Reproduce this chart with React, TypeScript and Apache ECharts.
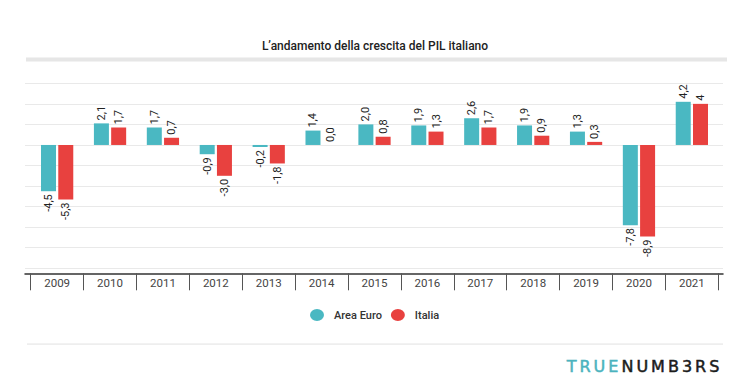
import React, { useEffect, useRef } from "react";
import * as echarts from "echarts";

const years = ["2009", "2010", "2011", "2012", "2013", "2014", "2015", "2016", "2017", "2018", "2019", "2020", "2021"];
const areaEuro = [-4.5, 2.1, 1.7, -0.9, -0.2, 1.4, 2.0, 1.9, 2.6, 1.9, 1.3, -7.8, 4.2];
const italia = [-5.3, 1.7, 0.7, -3.0, -1.8, 0.0, 0.8, 1.3, 1.7, 0.9, 0.3, -8.9, 4];
const areaEuroLabels = ["-4,5", "2,1", "1,7", "-0,9", "-0,2", "1,4", "2,0", "1,9", "2,6", "1,9", "1,3", "-7,8", "4,2"];
const italiaLabels = ["-5,3", "1,7", "0,7", "-3,0", "-1,8", "0,0", "0,8", "1,3", "1,7", "0,9", "0,3", "-8,9", "4"];
const seriesNames = ["Area Euro", "Italia"];
const titleText = "L\u2019andamento della crescita del PIL italiano";
const yMin = -12;
const yMax = 6;
const yStep = 2;

const TEAL = "#4ab8c2";
const RED = "#e8413f";

const logoLetters = ["T", "R", "U", "E", "N", "U", "M", "B", "3", "R", "S"];
const logoX = [566.7, 579.5, 593.6, 608.3, 621.4, 636.4, 651.1, 667.9, 681.9, 695.1, 709.2];

function buildData(values: number[]) {
  return values.map((v) => ({
    value: v,
    label: v < 0 ? { position: "bottom", align: "right" } : { position: "top", align: "left" },
  }));
}

export default function App() {
  const ref = useRef<HTMLDivElement>(null);
  useEffect(() => {
    if (!ref.current) return;
    const chart = echarts.init(ref.current, undefined, { renderer: "svg" });
    const labelBase = {
      show: true,
      rotate: 90,
      distance: 3,
      verticalAlign: "middle",
      fontSize: 11,
      color: "#222",
      fontFamily: "Roboto",
    };
    const option: any = {
      animation: false,
      backgroundColor: "#ffffff",
      textStyle: { fontFamily: "Roboto" },
      title: {
        text: titleText,
        left: "center",
        top: 35,
        textStyle: { fontSize: 12, fontWeight: 500, color: "#222", fontFamily: "Roboto" },
      },
      legend: {
        data: seriesNames,
        left: 305,
        top: 304,
        icon: "path://M0 6a7 6 0 1 0 14 0a7 6 0 1 0 -14 0z",
        itemWidth: 14,
        itemHeight: 12,
        itemGap: 9,
        textStyle: { fontSize: 11, fontWeight: 500, color: "#333", padding: [0, 0, 0, 5] },
      },
      grid: [
        { left: 30.7, right: 31.7, top: 83.3, bottom: 117.7 },
        { left: 25, right: 27, top: 83.3, bottom: 117.7 },
      ],
      xAxis: [
        {
          type: "category",
          gridIndex: 0,
          data: years,
          position: "bottom",
          offset: 5,
          axisLine: { show: false, onZero: false },
          axisTick: { show: true, interval: 0, length: 17, lineStyle: { color: "#555", width: 1 } },
          axisLabel: { interval: 0, margin: 4, fontSize: 11.5, color: "#444", fontFamily: "Roboto" },
          splitLine: { show: false },
        },
        {
          type: "value",
          gridIndex: 1,
          min: 0,
          max: 1,
          position: "bottom",
          offset: 5,
          axisLine: { show: true, onZero: false, lineStyle: { color: "#333", width: 1.5 } },
          axisTick: { show: false },
          axisLabel: { show: false },
          splitLine: { show: false },
        },
      ],
      yAxis: [
        {
          type: "value",
          gridIndex: 0,
          min: yMin,
          max: yMax,
          interval: yStep,
          axisLine: { show: false },
          axisTick: { show: false },
          axisLabel: { show: false },
          splitLine: { show: false },
        },
        {
          type: "value",
          gridIndex: 1,
          min: yMin,
          max: yMax,
          interval: yStep,
          axisLine: { show: false },
          axisTick: { show: false },
          axisLabel: { show: false },
          splitLine: { show: true, lineStyle: { color: "#e9e9e9", width: 1 } },
        },
      ],
      series: [
        {
          name: seriesNames[0],
          type: "bar",
          xAxisIndex: 0,
          yAxisIndex: 0,
          barWidth: 15,
          barGap: "15%",
          itemStyle: { color: TEAL },
          label: { ...labelBase, formatter: (p: any) => areaEuroLabels[p.dataIndex] },
          data: buildData(areaEuro),
        },
        {
          name: seriesNames[1],
          type: "bar",
          xAxisIndex: 0,
          yAxisIndex: 0,
          barWidth: 15,
          barGap: "15%",
          itemStyle: { color: RED },
          label: { ...labelBase, formatter: (p: any) => italiaLabels[p.dataIndex] },
          data: buildData(italia),
        },
      ],
      graphic: [
        { type: "rect", shape: { x: 26, y: 57.5, width: 701, height: 4 }, style: { fill: "#e6e6e6" }, silent: true },
        { type: "rect", shape: { x: 27, y: 343.3, width: 696, height: 1.6 }, style: { fill: "#eeeeee" }, silent: true },
        ...logoLetters.map((ch, i) => ({
          type: "text",
          x: logoX[i],
          y: 366,
          silent: true,
          style: {
            text: ch,
            fontSize: 16,
            fontFamily: "DejaVu Sans",
            fill: i < 4 ? "#4ab3be" : "#1c1c1c",
            stroke: i < 4 ? "#4ab3be" : "#1c1c1c",
            lineWidth: 0.5,
            verticalAlign: "middle",
          },
        })),
      ],
    };
    chart.setOption(option);
    return () => chart.dispose();
  }, []);
  return <div ref={ref} style={{ position: "fixed", left: 0, top: 0, width: 750, height: 386 }} />;
}
